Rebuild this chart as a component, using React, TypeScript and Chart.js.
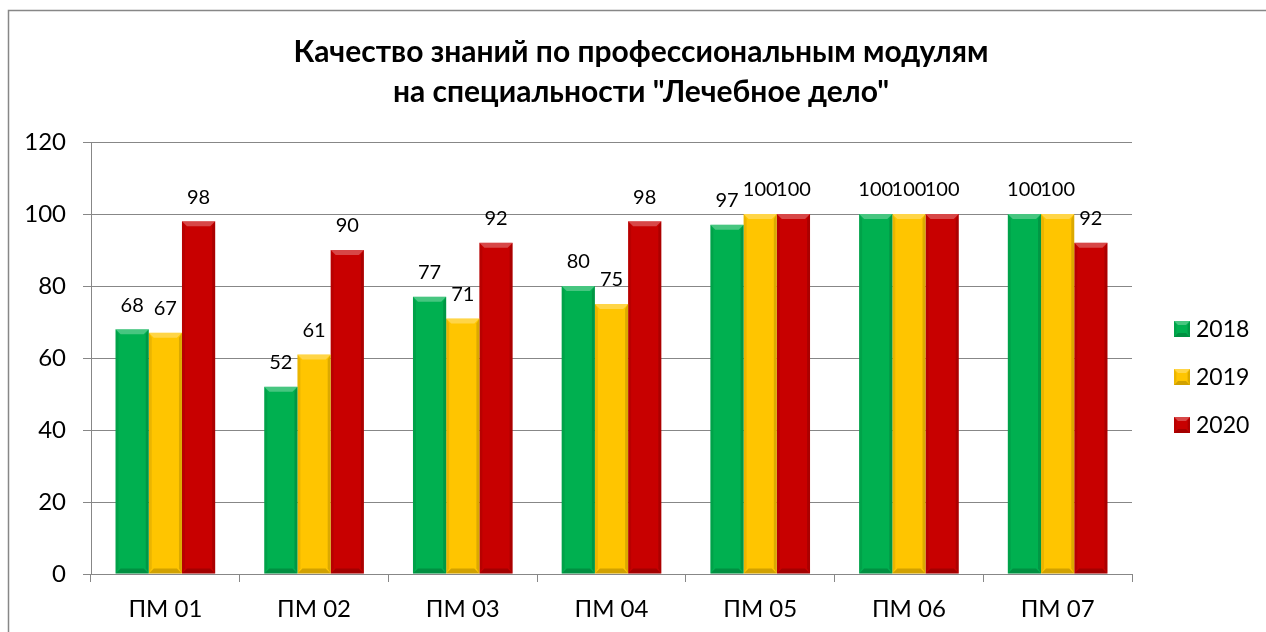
import React, { useEffect, useRef } from "react";
import { Chart, registerables } from "chart.js";

Chart.register(...registerables);

const categories = ["ПМ 01", "ПМ 02", "ПМ 03", "ПМ 04", "ПМ 05", "ПМ 06", "ПМ 07"];
const seriesLabels = ["2018", "2019", "2020"];
const values2018 = [68, 52, 77, 80, 97, 100, 100];
const values2019 = [67, 61, 71, 75, 100, 100, 100];
const values2020 = [98, 90, 92, 98, 100, 100, 92];
const seriesColors = ["#00B050", "#FFC500", "#C80000"];
const titleLines = ["Качество знаний по профессиональным модулям", "на специальности \"Лечебное дело\""];
const yMax = 120;
const yStep = 20;

const FONT = "Lato, 'Open Sans', sans-serif";

function bevel(ctx: CanvasRenderingContext2D, left: number, top: number, right: number, bottom: number, b: number) {
  ctx.fillStyle = "rgba(255,255,255,0.28)";
  ctx.beginPath();
  ctx.moveTo(left, top);
  ctx.lineTo(right, top);
  ctx.lineTo(right - b, top + b);
  ctx.lineTo(left + b, top + b);
  ctx.closePath();
  ctx.fill();
  ctx.fillStyle = "rgba(0,0,0,0.08)";
  ctx.beginPath();
  ctx.moveTo(left, top);
  ctx.lineTo(left + b * 0.6, top + b);
  ctx.lineTo(left + b * 0.6, bottom - b);
  ctx.lineTo(left, bottom);
  ctx.closePath();
  ctx.fill();
  ctx.fillStyle = "rgba(0,0,0,0.14)";
  ctx.beginPath();
  ctx.moveTo(right, top);
  ctx.lineTo(right - b * 0.6, top + b);
  ctx.lineTo(right - b * 0.6, bottom - b);
  ctx.lineTo(right, bottom);
  ctx.closePath();
  ctx.fill();
  ctx.fillStyle = "rgba(0,0,0,0.18)";
  ctx.beginPath();
  ctx.moveTo(left, bottom);
  ctx.lineTo(right, bottom);
  ctx.lineTo(right - b, bottom - b);
  ctx.lineTo(left + b, bottom - b);
  ctx.closePath();
  ctx.fill();
}

const decorPlugin = {
  id: "decor",
  beforeDraw(chart: any) {
    const ctx = chart.ctx as CanvasRenderingContext2D;
    ctx.save();
    ctx.fillStyle = "#ffffff";
    ctx.fillRect(0, 0, chart.width, chart.height);
    ctx.strokeStyle = "#878787";
    ctx.lineWidth = 1.5;
    ctx.beginPath();
    ctx.moveTo(8.5, chart.height + 2);
    ctx.lineTo(8.5, 10.5);
    ctx.lineTo(chart.width + 2, 10.5);
    ctx.stroke();
    ctx.restore();
  },
  afterDatasetsDraw(chart: any) {
    const ctx = chart.ctx as CanvasRenderingContext2D;
    ctx.save();
    chart.data.datasets.forEach((ds: any, di: number) => {
      const meta = chart.getDatasetMeta(di);
      meta.data.forEach((el: any, i: number) => {
        const half = el.width / 2;
        bevel(ctx, el.x - half, el.y, el.x + half, el.base, 5);
        ctx.fillStyle = "#000000";
        ctx.font = `20px ${FONT}`;
        ctx.textAlign = "center";
        ctx.textBaseline = "middle";
        ctx.fillText(String(ds.data[i]), el.x, el.y - 24);
      });
    });
    const lx = 1174;
    const ly0 = 329;
    const gap = 48;
    chart.data.datasets.forEach((ds: any, di: number) => {
      const cy = ly0 + di * gap;
      ctx.fillStyle = ds.backgroundColor;
      ctx.fillRect(lx, cy - 8, 16, 16);
      bevel(ctx, lx, cy - 8, lx + 16, cy + 8, 4);
      ctx.fillStyle = "#000000";
      ctx.font = `23px ${FONT}`;
      ctx.textAlign = "left";
      ctx.textBaseline = "middle";
      ctx.fillText(ds.label, lx + 22, cy + 1);
    });
    ctx.restore();
  },
};

export default function App() {
  const ref = useRef<HTMLCanvasElement | null>(null);
  useEffect(() => {
    if (!ref.current) return;
    const seriesValues = [values2018, values2019, values2020];
    const chart = new Chart(ref.current, {
      type: "bar",
      data: {
        labels: categories,
        datasets: seriesLabels.map((label, i) => ({
          label,
          data: seriesValues[i],
          backgroundColor: seriesColors[i],
          borderWidth: 0,
          categoryPercentage: 0.67,
          barPercentage: 1.0,
          yAxisID: "y",
        })),
      },
      options: {
        animation: false,
        responsive: false,
        maintainAspectRatio: false,
        layout: { padding: { left: 16, right: 0, top: 0, bottom: 0 } },
        plugins: {
          legend: { display: false },
          tooltip: { enabled: false },
          title: {
            display: true,
            text: titleLines,
            color: "#000000",
            font: { family: FONT, size: 30, weight: "bold", lineHeight: 40 / 30 },
            padding: { top: 32, bottom: 30 },
          },
        },
        scales: {
          x: {
            grid: {
              display: true,
              drawOnChartArea: false,
              offset: true,
              color: "#878787",
              tickLength: 8,
            },
            border: { color: "#878787", width: 1 },
            ticks: {
              color: "#000000",
              font: { family: FONT, size: 24 },
              padding: 13,
              maxRotation: 0,
            },
            afterFit(scale: any) {
              scale.height = 58;
            },
          },
          y: {
            min: 0,
            max: yMax,
            grid: { color: "#878787", tickLength: 8 },
            border: { color: "#878787", width: 1 },
            ticks: {
              stepSize: yStep,
              color: "#000000",
              font: { family: FONT, size: 24 },
              padding: 17,
            },
            afterFit(scale: any) {
              scale.width = 75;
            },
          },
          legendSpace: {
            type: "linear",
            position: "right",
            display: true,
            grid: { display: false, drawTicks: false },
            border: { display: false },
            ticks: { display: false },
            afterFit(scale: any) {
              scale.width = 134;
            },
          },
        },
      },
      plugins: [decorPlugin],
    });
    return () => chart.destroy();
  }, []);
  return (
    <div style={{ position: "fixed", left: 0, top: 0, width: 1266, height: 632, background: "#fff" }}>
      <canvas ref={ref} width={1266} height={632} style={{ display: "block", width: 1266, height: 632 }} />
    </div>
  );
}
